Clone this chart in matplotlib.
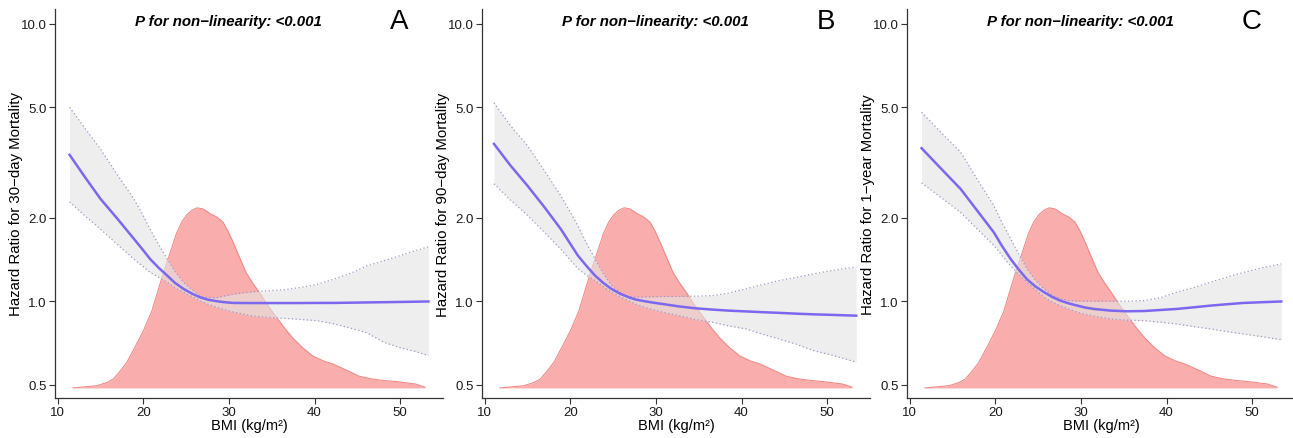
import numpy as np
import matplotlib
matplotlib.use("Agg")
import matplotlib.pyplot as plt

plt.rcParams['font.family'] = ['Liberation Sans', 'DejaVu Sans']

# --- andmed (loetud pildilt) ---
# BMI jaotuse tihedus, joonistatud HR-telje ühikutes
dens_bmi = [11.8, 14.6, 15.8, 16.5, 17.2, 18.1, 19.0, 20.0, 21.0, 21.6, 22.2, 22.8, 23.4, 23.9,
            24.5, 25.1, 25.7, 26.3, 27.0, 27.8, 28.6, 29.3, 29.9, 30.5, 31.2, 32.0, 32.8, 33.6,
            34.5, 35.5, 36.5, 37.5, 38.6, 39.8, 41.0, 42.2, 43.7, 45.2, 46.5, 47.9, 49.9, 51.8, 52.9]
dens_val = [0.487, 0.496, 0.51, 0.524, 0.555, 0.603, 0.68, 0.78, 0.92, 1.06, 1.22, 1.39, 1.58, 1.76,
            1.93, 2.05, 2.13, 2.17, 2.15, 2.07, 2.01, 1.93, 1.79, 1.63, 1.45, 1.27, 1.16, 1.07,
            0.97, 0.88, 0.80, 0.735, 0.68, 0.635, 0.61, 0.593, 0.565, 0.537, 0.526, 0.519, 0.512, 0.503, 0.49]
dens_base = 0.487

# A: 30-päeva suremus
a_bmi = [11.4, 13.2, 15.0, 17.0, 18.9, 19.9, 20.8, 21.8, 22.8, 23.7, 24.7, 25.7, 26.6, 27.6,
         28.6, 29.5, 30.5, 32.5, 34.4, 36.4, 38.3, 40.3, 42.2, 44.2, 46.1, 48.1, 50.0, 51.7, 53.3]
a_hr = [3.37, 2.80, 2.34, 1.98, 1.68, 1.54, 1.42, 1.32, 1.237, 1.165, 1.108, 1.065, 1.034, 1.012,
        1.0, 0.992, 0.986, 0.985, 0.985, 0.985, 0.985, 0.986, 0.986, 0.988, 0.99, 0.992, 0.994, 0.996, 0.998]
a_hi = [5.0, 4.20, 3.54, 2.85, 2.34, 2.06, 1.82, 1.60, 1.42, 1.28, 1.17, 1.10, 1.047, 1.03,
        1.03, 1.045, 1.06, 1.08, 1.09, 1.10, 1.12, 1.15, 1.20, 1.26, 1.34, 1.40, 1.46, 1.52, 1.57]
a_lo = [2.28, 2.03, 1.82, 1.60, 1.42, 1.34, 1.27, 1.22, 1.17, 1.12, 1.078, 1.04, 1.005, 0.975,
        0.951, 0.932, 0.915, 0.887, 0.875, 0.868, 0.86, 0.851, 0.83, 0.80, 0.77, 0.711, 0.68, 0.66, 0.637]

# B: 90-päeva suremus
b_bmi = [11.1, 13.0, 15.0, 17.0, 18.9, 19.9, 20.9, 21.9, 22.9, 23.85, 24.8, 25.8, 26.8, 27.7,
         28.7, 29.7, 30.7, 32.7, 34.6, 36.6, 38.5, 40.5, 42.5, 44.4, 46.4, 48.4, 50.5, 53.4]
b_hr = [3.69, 3.09, 2.61, 2.18, 1.82, 1.63, 1.46, 1.34, 1.237, 1.165, 1.108, 1.065, 1.034, 1.013,
        1.0, 0.988, 0.978, 0.958, 0.943, 0.933, 0.925, 0.919, 0.913, 0.908, 0.902, 0.897, 0.893, 0.887]
b_hi = [5.19, 4.30, 3.64, 2.95, 2.40, 2.12, 1.87, 1.62, 1.42, 1.26, 1.14, 1.075, 1.04, 1.035,
        1.035, 1.038, 1.04, 1.04, 1.043, 1.047, 1.07, 1.108, 1.15, 1.187, 1.22, 1.254, 1.29, 1.33]
b_lo = [2.65, 2.32, 2.04, 1.77, 1.54, 1.42, 1.31, 1.24, 1.187, 1.13, 1.078, 1.04, 1.005, 0.976,
        0.951, 0.932, 0.915, 0.887, 0.86, 0.84, 0.815, 0.795, 0.76, 0.731, 0.70, 0.664, 0.64, 0.603]

# C: 1-aasta suremus
c_bmi = [11.4, 13.7, 15.95, 17.9, 19.84, 20.8, 21.8, 22.75, 23.7, 24.7, 25.7, 26.65, 27.6, 28.6,
         29.6, 30.5, 31.5, 33.5, 35.4, 37.4, 39.3, 41.2, 43.2, 45.1, 47.0, 49.0, 51.2, 53.4]
c_hr = [3.56, 3.00, 2.54, 2.12, 1.77, 1.58, 1.42, 1.30, 1.20, 1.13, 1.078, 1.036, 1.005, 0.982,
        0.964, 0.949, 0.938, 0.925, 0.92, 0.922, 0.93, 0.938, 0.951, 0.964, 0.975, 0.986, 0.992, 0.998]
c_hi = [4.80, 4.05, 3.45, 2.75, 2.21, 1.92, 1.68, 1.48, 1.31, 1.19, 1.108, 1.05, 1.02, 1.005,
        1.0, 1.0, 1.0, 1.0, 1.0, 1.005, 1.03, 1.078, 1.12, 1.17, 1.22, 1.27, 1.32, 1.363]
c_lo = [2.67, 2.36, 2.09, 1.82, 1.59, 1.46, 1.34, 1.25, 1.17, 1.10, 1.034, 0.995, 0.964, 0.937,
        0.913, 0.897, 0.885, 0.863, 0.855, 0.851, 0.84, 0.828, 0.81, 0.795, 0.778, 0.762, 0.745, 0.727]

paneelid = [
    ("A", "Hazard Ratio for 30\u2212day Mortality", a_bmi, a_hr, a_lo, a_hi),
    ("B", "Hazard Ratio for 90\u2212day Mortality", b_bmi, b_hr, b_lo, b_hi),
    ("C", "Hazard Ratio for 1\u2212year Mortality", c_bmi, c_hr, c_lo, c_hi),
]
y_ticks = [0.5, 1.0, 2.0, 5.0, 10.0]
x_ticks = [10, 20, 30, 40, 50]

W, H = 1293, 439
fig = plt.figure(figsize=(W / 100, H / 100), dpi=100)

lefts = [55, 482, 907]
for (taht, ylab, bx, hr, lo, hi), left in zip(paneelid, lefts):
    ax = fig.add_axes([left / W, (H - 399) / H, 388 / W, 389 / H])
    ax.set_yscale("log")

    # tihedus
    ax.fill_between(dens_bmi, dens_base, dens_val, color="#F9AEAD", lw=0, zorder=1)
    ax.plot(dens_bmi, dens_val, color="#F08A86", lw=0.8, zorder=1)

    # usaldusvahemik
    ax.fill_between(bx, lo, hi, color="#E4E4E4", alpha=0.6, lw=0, zorder=2)
    ax.plot(bx, hi, color="#9A9AC8", lw=0.9, ls=(0, (1, 2)), zorder=3)
    ax.plot(bx, lo, color="#9A9AC8", lw=0.9, ls=(0, (1, 2)), zorder=3)

    # HR kõver
    ax.plot(bx, hr, color="#7B68EE", lw=1.8, zorder=4, solid_joinstyle="round")

    ax.set_xlim(9.7, 55.0)
    ax.set_ylim(0.448, 11.3)
    ax.set_xticks(x_ticks)
    ax.set_yticks(y_ticks)
    ax.set_yticklabels([f"{v:.1f}" for v in y_ticks])
    ax.minorticks_off()
    ax.tick_params(labelsize=9.5, colors="#333333", length=4, width=0.8, pad=2)
    ax.tick_params(labelcolor="#1a1a1a")
    for s in ["top", "right"]:
        ax.spines[s].set_visible(False)
    for s in ["left", "bottom"]:
        ax.spines[s].set_color("#333333")
        ax.spines[s].set_linewidth(0.9)

    ax.set_xlabel("BMI (kg/m\u00b2)", fontsize=10.5)
    ax.set_ylabel(ylab, fontsize=10.8)
    ax.yaxis.set_label_coords(-0.083, 0.5)
    ax.xaxis.set_label_coords(0.5, -0.052)

    ax.text(30, 10.2, "P for non\u2212linearity: <0.001", ha="center", va="center",
            fontsize=10.8, fontweight="bold", fontstyle="italic")
    ax.text(49.9, 10.2, taht, ha="center", va="center", fontsize=20)

fig.savefig("out.png", dpi=100)
